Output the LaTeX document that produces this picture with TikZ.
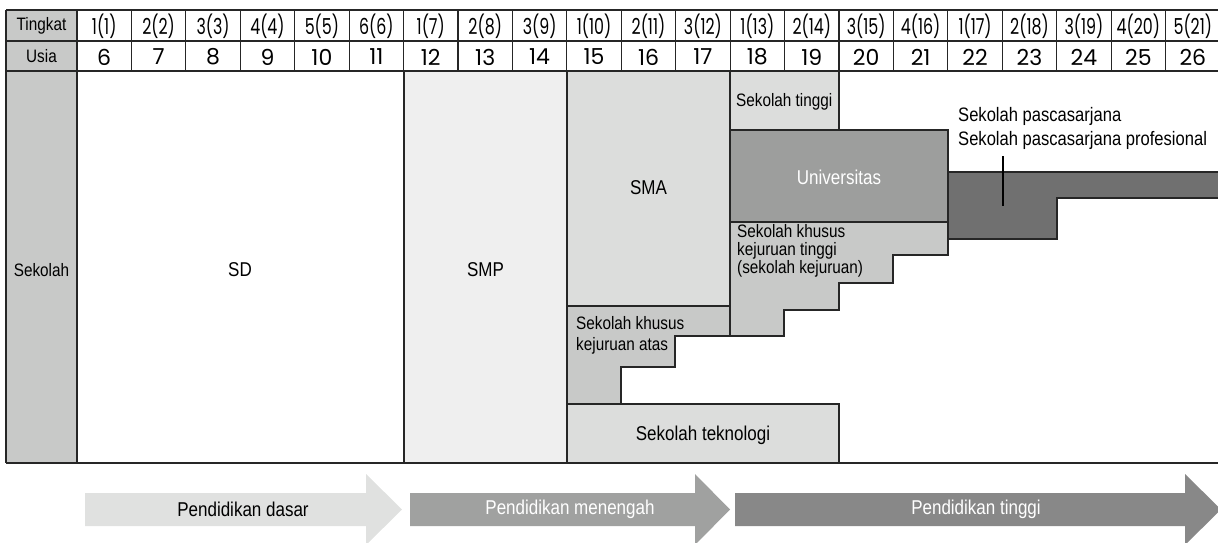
\documentclass[tikz,border=0pt]{standalone}
\usepackage{fontspec}
\setmainfont[FakeStretch=0.85]{Liberation Sans}
\newfontfamily\agefont{Poppins}
\newfontfamily\gradefont[FakeStretch=0.72]{Poppins}
\usetikzlibrary{positioning}

\definecolor{sidegray}{RGB}{200,201,200}
\definecolor{smpgray}{RGB}{239,239,239}
\definecolor{pale}{RGB}{220,221,220}
\definecolor{mid}{RGB}{200,201,200}
\definecolor{univgray}{RGB}{157,158,157}
\definecolor{pascagray}{RGB}{112,112,112}
\definecolor{arrowA}{RGB}{224,225,224}
\definecolor{arrowB}{RGB}{160,161,160}
\definecolor{arrowC}{RGB}{136,136,136}

\tikzset{
  rule/.style={draw=black!85, line width=1.2pt},
  box/.style={rule, fill=#1},
  big/.style={font=\fontsize{20}{23}\selectfont, inner sep=0pt},
  small/.style={font=\fontsize{18}{18}\selectfont, inner sep=0pt, align=left},
  head/.style={font=\fontsize{18}{18}\selectfont, inner sep=0pt},
}

\begin{document}
\begin{tikzpicture}[x=1pt,y=-1pt,line join=miter]
	\useasboundingbox (0,0) rectangle (1218,543);
	
	% background columns
	\fill[sidegray] (6,10) rectangle (77,463);
	\fill[smpgray] (404,71) rectangle (567,463);
	
	% schools
	\draw[box=pale] (567,71) rectangle (730,306);
	\draw[box=pale] (730,71) rectangle (839,130);
	\draw[box=univgray] (730,130) rectangle (948,222);
	\draw[box=mid] (730,222) -- (948,222) -- (948,255) -- (893,255) -- (893,283) -- (839,283) -- (839,310) -- (784,310) -- (784,336) -- (730,336) -- cycle;
	\draw[box=mid] (567,306) -- (730,306) -- (730,336) -- (675,336) -- (675,367) -- (621,367) -- (621,404) -- (567,404) -- cycle;
	\draw[box=pale] (567,404) rectangle (839,463);
	\draw[box=pascagray] (948,172) -- (1222,172) -- (1222,198) -- (1057,198) -- (1057,239) -- (948,239) -- cycle;
	
	% table rules
	\foreach \y in {10,41,71,463}
		\draw[rule] (6,\y) -- (1222,\y);
	\foreach \i in {0,...,20}
		\draw[rule] (77+54.43*\i,10) -- (77+54.43*\i,71);
	\draw[rule] (6,10) -- (6,463);
	\draw[rule] (77,71) -- (77,463);
	\draw[rule] (404,71) -- (404,463);
	\draw[rule] (567,71) -- (567,463);
	
	% header
	\node[head] (tingkat) at (41.5,25.5) {Tingkat};
	\node[head] (usia) at (41.5,56) {Usia};
	\foreach \g/\a [count=\i from 0] in {1(1)/6,2(2)/7,3(3)/8,4(4)/9,5(5)/10,6(6)/11,1(7)/12,2(8)/13,3(9)/14,1(10)/15,2(11)/16,3(12)/17,1(13)/18,2(14)/19,3(15)/20,4(16)/21,1(17)/22,2(18)/23,3(19)/24,4(20)/25,5(21)/26}{
		\node[font=\gradefont\fontsize{22}{22}\selectfont, inner sep=0pt] (grade\i) at (104.2+54.43*\i,26) {\g};
		\node[font=\agefont\fontsize{22}{22}\selectfont, inner sep=0pt] (age\i) at (104.2+54.43*\i,57) {\a};
	}
	
	% labels
	\node[head] (sekolah) at (41.5,270) {Sekolah};
	\node[big] (sd) at (240,270) {SD};
	\node[big] (smp) at (485.5,270) {SMP};
	\node[big] (sma) at (648.5,188) {SMA};
	\node[small, anchor=west] (tinggi) at (736,102) {Sekolah tinggi};
	\node[big, text=white] (univ) at (839,177) {Universitas};
	\node[small, anchor=west] (khususT) at (737,251) {Sekolah khusus\\kejuruan tinggi\\(sekolah kejuruan)};
	\node[small, anchor=west, font=\fontsize{18}{20.5}\selectfont] (khususA) at (576,335.5) {Sekolah khusus\\kejuruan atas};
	\node[big] (tekno) at (703,435) {Sekolah teknologi};
	\node[big, anchor=west, align=left, font=\fontsize{19.5}{24}\selectfont] (pasca) at (958,128) {Sekolah pascasarjana\\Sekolah pascasarjana profesional};
	\coordinate (leadA) at (1003,156);
	\coordinate (leadB) at (1003,206);
	\draw[line width=1.2pt] (leadA) -- (leadB);
	
	% stages
	\fill[arrowA] (85,493) -- (366,493) -- (366,474) -- (402,509.5) -- (366,545) -- (366,526) -- (85,526) -- cycle;
	\fill[arrowB] (410,493) -- (695,493) -- (695,474) -- (730,509.5) -- (695,545) -- (695,526) -- (410,526) -- cycle;
	\fill[arrowC] (735,493) -- (1185,493) -- (1185,474) -- (1221,509.5) -- (1185,545) -- (1185,526) -- (735,526) -- cycle;
	\node[big] (dasar) at (243,509.5) {Pendidikan dasar};
	\node[big, text=white] (menengah) at (570,509.5) {Pendidikan menengah};
	\node[big, text=white] (ptinggi) at (976,509.5) {Pendidikan tinggi};
	
\end{tikzpicture}
\end{document}
